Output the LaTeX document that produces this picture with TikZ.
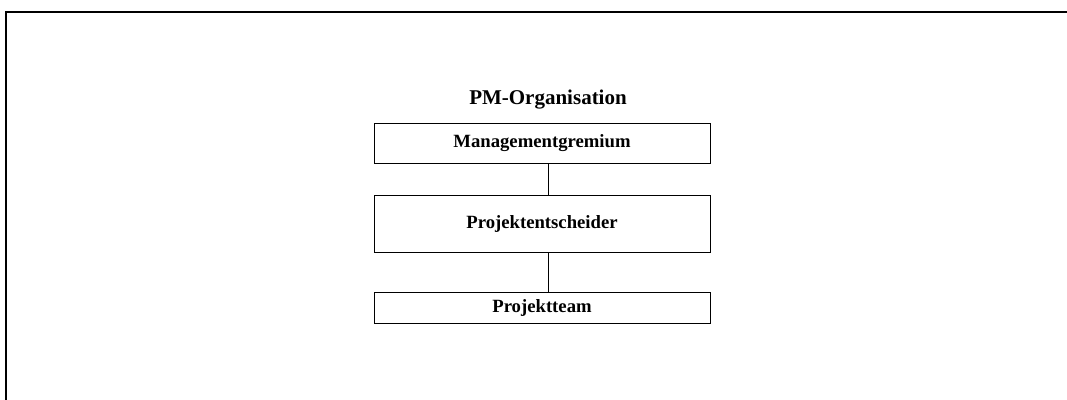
\documentclass[tikz,border=0pt]{standalone}
\usepackage{fontspec}
\setmainfont{Liberation Serif}
\usetikzlibrary{positioning}
\tikzset{
  every picture/.style={line join=miter, line cap=rect},
  unitbox/.style={draw, line width=0.9pt, minimum width=336pt, inner sep=0pt, font=\fontsize{18.7}{20}\selectfont\bfseries},
  link/.style={line width=0.9pt},
}

\begin{document}
\begin{tikzpicture}[x=1pt,y=-1pt]
\useasboundingbox (0,0) rectangle (1067,399);
\draw[line width=2pt](6,399)--(6,12)--(1067,12);
\node[font=\fontsize{21}{24}\selectfont\bfseries] (titel) at (548,100) {PM-Organisation};
\node[unitbox,minimum height=40pt] (mg) at (542,143) {Managementgremium};
\node[unitbox,minimum height=57pt] (pe) at (542,223.5) {Projektentscheider};
\node[unitbox,minimum height=31pt] (pt) at (542,307.5) {Projektteam};
\coordinate (achse) at (548.5,0);
\draw[link](mg.south -| achse)--(pe.north -| achse);
\draw[link](pe.south -| achse)--(pt.north -| achse);
\end{tikzpicture}
\end{document}
